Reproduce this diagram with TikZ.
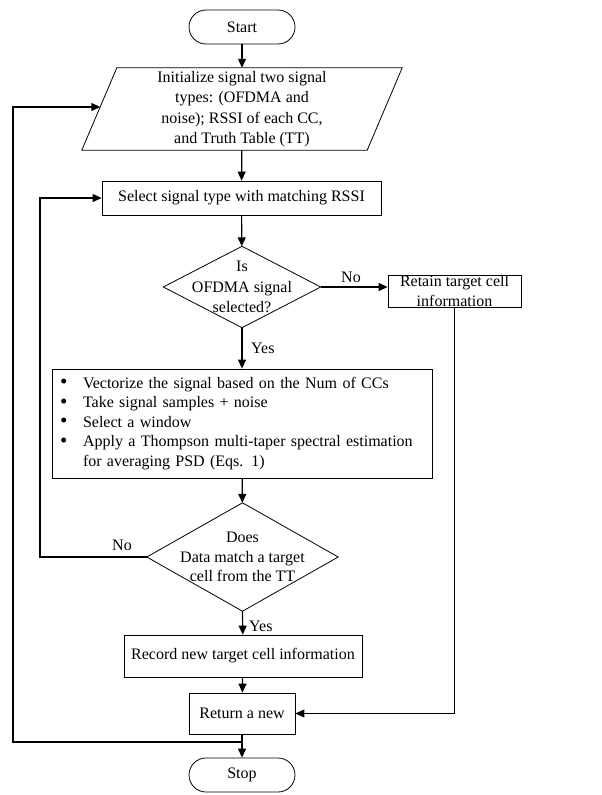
\documentclass[tikz,border=0pt]{standalone}
\usepackage{fontspec}
\setmainfont{Liberation Serif}
\usetikzlibrary{arrows.meta,calc}
\newcommand{\bulitem}{\makebox[26pt][l]{\hspace*{3pt}\raisebox{-0.5pt}{\fontsize{21}{19.5}\selectfont\textbullet}}}
\begin{document}
\begin{tikzpicture}[x=1pt,y=-1pt,
  font=\fontsize{16}{19.5}\selectfont,
  box/.style={draw, line width=0.8pt, inner sep=0pt, align=center},
  term/.style={box, rounded corners=17pt, minimum width=106pt, minimum height=34pt},
  ghost/.style={inner sep=0pt, align=center},
  arr/.style={line width=1.2pt, -{Triangle[length=9pt,width=8pt]}},
  lbl/.style={inner sep=0pt}
]
\useasboundingbox (0,0) rectangle (602,795);

\node[term] (start) at (242,27) {Start};

\node[ghost, minimum width=320pt, minimum height=82pt, font=\fontsize{16}{20.5}\selectfont] (init) at (242,109)
  {Initialize signal two signal\\types: (OFDMA and\\noise); RSSI of each CC,\\and Truth Table (TT)};
\draw[line width=0.8pt] (init.south west) -- ($(init.south east)+(-35,0)$) -- (init.north east) -- ($(init.north west)+(35,0)$) -- cycle;
\coordinate (initL) at ($(init.west)+(18.5,-2)$);

\node[box, minimum width=279pt, minimum height=34pt] (sel) at (241.5,198) {Select signal type with matching RSSI};

\node[ghost, minimum width=157pt, minimum height=81pt, font=\fontsize{16}{20.5}\selectfont] (d1) at (242,287) {Is\\OFDMA signal\\selected?};
\draw[line width=0.8pt] (d1.north) -- (d1.east) -- (d1.south) -- (d1.west) -- cycle;

\node[box, minimum width=133pt, minimum height=32pt] (ret) at (454.5,291) {Retain target cell\\information};

\node[box, minimum width=380pt, minimum height=109pt, text width=370pt, align=left] (bul) at (242,423.5)
  {\bulitem Vectorize the signal based on the Num of CCs\\
   \bulitem Take signal samples + noise\\
   \bulitem Select a window\\
   \bulitem Apply a Thompson multi-taper spectral estimation\\
   \hspace*{26pt}for averaging PSD (Eqs. 1)};

\node[ghost, minimum width=191pt, minimum height=108pt] (d2) at (242.5,557) {Does\\Data match a target\\cell from the TT};
\draw[line width=0.8pt] (d2.north) -- (d2.east) -- (d2.south) -- (d2.west) -- cycle;

\node[box, minimum width=238pt, minimum height=42pt] (rec) at (243,656) {Record new target cell information};
\node[box, minimum width=106pt, minimum height=41pt] (retn) at (242,713.5) {Return a new};
\node[term] (stop) at (242,775) {Stop};

\coordinate (j) at (242,742);
\coordinate (c1) at (13,742);
\coordinate (c2) at (40,557);

\draw[arr] (start) -- (init);
\draw[arr] (init) -- (sel);
\draw[arr] (sel) -- (d1);
\draw[arr] (d1.east) -- (d1.east -| ret.west);
\node[lbl] (no1) at (351,277) {No};
\draw[arr] (d1) -- (bul);
\node[lbl, anchor=west] (yes1) at (251,348) {Yes};
\draw[arr] (bul) -- (d2);
\draw[arr] (d2.south) -- (rec);
\node[lbl, anchor=west] (yes2) at (249,626) {Yes};
\draw[arr] (rec) -- (retn);
\draw[arr] (retn) -- (stop);
\draw[arr] (ret.south) |- (retn.east);
\draw[arr] (j) -- (c1) |- (initL);
\draw[arr] (d2.west) -- (c2) |- (sel.west);
\node[lbl] (no2) at (122,545) {No};
\end{tikzpicture}
\end{document}
